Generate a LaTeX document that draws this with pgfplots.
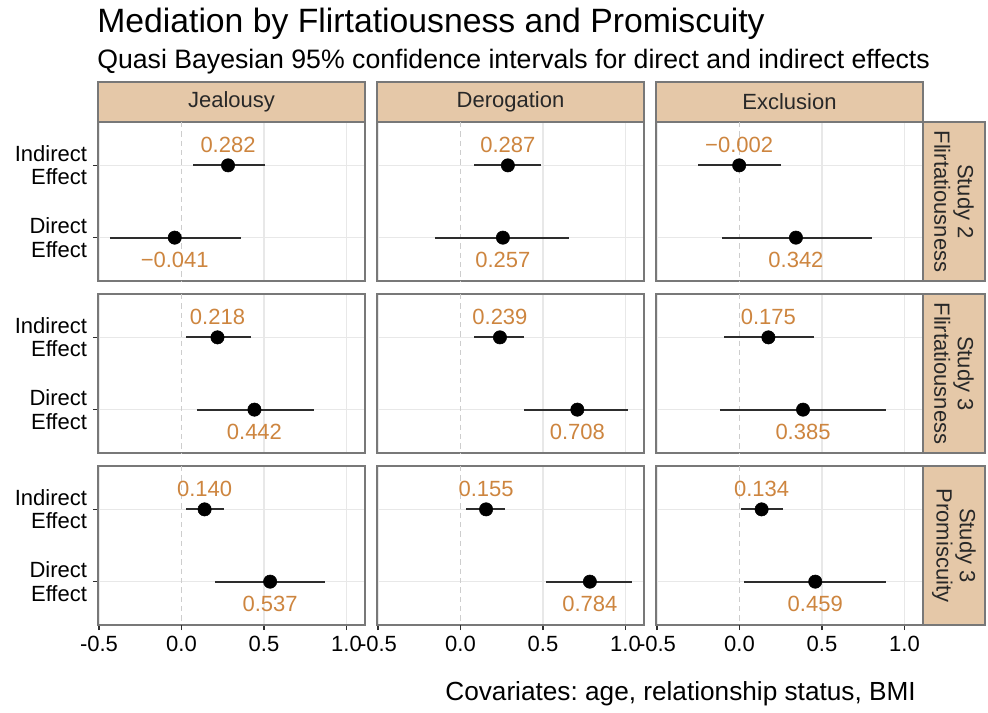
\documentclass[border=0pt]{standalone}
\usepackage{fontspec}
\setmainfont{Liberation Sans}
\usepackage{pgfplots}
\pgfplotsset{compat=1.18}
\usepackage{pgfplotstable}
\frenchspacing

\definecolor{labc}{RGB}{205,133,63}
\definecolor{stripc}{RGB}{229,200,168}
\definecolor{borderc}{RGB}{120,120,120}
\definecolor{gridc}{RGB}{232,232,232}
\definecolor{zeroc}{RGB}{205,205,205}
\definecolor{barc}{RGB}{45,45,45}
\definecolor{stript}{RGB}{40,40,40}

% Study 2 - Flirtatiousness
\pgfplotstableread{
y est lo hi lab
1 0.282 0.067 0.505 0.282
2 -0.041 -0.433 0.360 −0.041
}\tAa
\pgfplotstableread{
y est lo hi lab
1 0.287 0.081 0.485 0.287
2 0.257 -0.156 0.660 0.257
}\tAb
\pgfplotstableread{
y est lo hi lab
1 -0.002 -0.249 0.251 −0.002
2 0.342 -0.107 0.800 0.342
}\tAc
% Study 3 - Flirtatiousness
\pgfplotstableread{
y est lo hi lab
1 0.218 0.030 0.420 0.218
2 0.442 0.093 0.800 0.442
}\tBa
\pgfplotstableread{
y est lo hi lab
1 0.239 0.081 0.384 0.239
2 0.708 0.384 1.016 0.708
}\tBb
\pgfplotstableread{
y est lo hi lab
1 0.175 -0.091 0.449 0.175
2 0.385 -0.121 0.889 0.385
}\tBc
% Study 3 - Promiscuity
\pgfplotstableread{
y est lo hi lab
1 0.140 0.030 0.260 0.140
2 0.537 0.200 0.870 0.537
}\tCa
\pgfplotstableread{
y est lo hi lab
1 0.155 0.035 0.270 0.155
2 0.784 0.520 1.040 0.784
}\tCb
\pgfplotstableread{
y est lo hi lab
1 0.134 0.008 0.263 0.134
2 0.459 0.030 0.890 0.459
}\tCc

\newcommand\tfont{\fontsize{16.5}{17.5}\selectfont}

\pgfplotsset{
  panel/.style={
    scale only axis, width=200.25pt, height=119.25pt, anchor=north west,
    xmin=-0.506, xmax=1.112, ymin=0.4, ymax=2.6, y dir=reverse,
    xtick={-0.5,0.5,1}, xticklabels={-0.5,0.5,1.0},
    extra x ticks={0}, extra x tick labels={0.0},
    extra x tick style={major grid style={zeroc, line width=0.8pt, dash pattern=on 4pt off 3pt}},
    ytick={1,2}, yticklabels={Indirect\\Effect,Direct\\Effect},
    xmajorgrids, ymajorgrids,
    major grid style={gridc, line width=0.8pt},
    axis line style={borderc, line width=0.9pt},
    tick align=outside, major tick length=3.75pt,
    tick style={barc, line width=0.8pt},
    xtick pos=lower, ytick pos=left,
    tick label style={font=\tfont, text=black},
    yticklabel style={align=right, xshift=-1pt},
    xticklabel style={yshift=-1pt},
  },
  noxt/.style={xticklabels={}, extra x tick labels={}, xtick style={draw=none}, extra x tick style={tick style={draw=none}}},
  noyt/.style={yticklabels={}, ytick style={draw=none}},
}

\newcommand\panel[4]{%
  \begin{axis}[panel, at={(#2)}, #3]
    \addplot[only marks, mark=*, mark size=5pt, mark options={fill=black, draw=black},
      error bars/.cd, x dir=both, x explicit, error mark=none,
      error bar style={line width=1.4pt, barc}]
      table[x=est, y=y, x error plus expr=\thisrow{hi}-\thisrow{est},
            x error minus expr=\thisrow{est}-\thisrow{lo}] {#1};
    \addplot[draw=none, nodes near coords, point meta=explicit symbolic,
      every node near coord/.style={anchor=center, yshift=15pt, text=labc, font=\tfont},
      skip coords between index={1}{2}]
      table[x=est, y=y, meta=lab] {#1};
    \addplot[draw=none, nodes near coords, point meta=explicit symbolic,
      every node near coord/.style={anchor=center, yshift=-16.9pt, text=labc, font=\tfont},
      skip coords between index={0}{1}]
      table[x=est, y=y, meta=lab] {#1};
  \end{axis}%
}

\begin{document}
\begin{tikzpicture}
\path (0,0) rectangle (741pt,-534.75pt);
% titles
\node[anchor=base west, inner sep=0, font=\fontsize{25.3}{30}\selectfont] at (72.75pt,-24.75pt) {Mediation by Flirtatiousness and Promiscuity};
\node[anchor=base west, inner sep=0, font=\fontsize{20}{24}\selectfont] at (72.75pt,-51.75pt) {Quasi Bayesian 95\% confidence intervals for direct and indirect effects};
\node[anchor=base east, inner sep=0, font=\fontsize{19.65}{24}\selectfont] at (687pt,-525pt) {Covariates: age, relationship status, BMI};

% top strips
\foreach \xl/\lab in {73.5/Jealousy, 282.75/Derogation, 492/Exclusion}{
  \draw[fill=stripc, draw=borderc, line width=0.9pt] (\xl pt,-61.5pt) rectangle ({\xl pt+200.25pt},-91.5pt);
  \node[text=stript, font=\tfont] at ({\xl pt+100.125pt},-76.5pt) {\lab};
}
% right strips
\foreach \yt/\lab in {-91.5/{Study 2\\Flirtatiousness}, -220.5/{Study 3\\Flirtatiousness}, -349.5/{Study 3\\Promiscuity}}{
  \draw[fill=stripc, draw=borderc, line width=0.9pt] (692.25pt,\yt pt) rectangle (738.75pt,{\yt pt-119.25pt});
  \node[text=stript, font=\tfont, rotate=-90, align=center] at (715.5pt,{\yt pt-59.625pt}) {\lab};
}

\panel{\tAa}{73.5pt,-91.5pt}{noxt}{}
\panel{\tAb}{282.75pt,-91.5pt}{noxt,noyt}{}
\panel{\tAc}{492pt,-91.5pt}{noxt,noyt}{}
\panel{\tBa}{73.5pt,-220.5pt}{noxt}{}
\panel{\tBb}{282.75pt,-220.5pt}{noxt,noyt}{}
\panel{\tBc}{492pt,-220.5pt}{noxt,noyt}{}
\panel{\tCa}{73.5pt,-349.5pt}{}{}
\panel{\tCb}{282.75pt,-349.5pt}{noyt}{}
\panel{\tCc}{492pt,-349.5pt}{noyt}{}
\end{tikzpicture}
\end{document}
